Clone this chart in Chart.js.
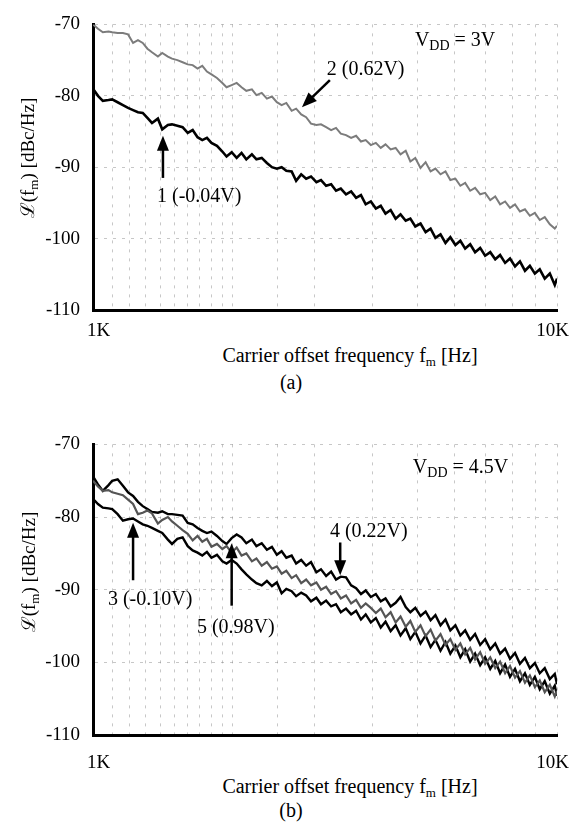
<!DOCTYPE html>
<html>
<head>
<meta charset="utf-8">
<script src="https://cdn.jsdelivr.net/npm/chart.js@4.4.0/dist/chart.umd.min.js"></script>
<style>
body { margin: 0; background: #fff; width: 570px; height: 823px; position: relative; overflow: hidden; font-family: "Liberation Serif", serif; color: #000; }
canvas { position: absolute; left: 0; }
.t { position: absolute; font-size: 20px; white-space: nowrap; transform: translate(-50%, -50%); }
.yt { position: absolute; font-size: 19px; white-space: nowrap; transform: translate(-50%, -50%) rotate(-90deg); }
sub { font-size: 13px; vertical-align: -4px; line-height: 0; }
</style>
</head>
<body>
<canvas id="chartA" width="570" height="340" style="top:0"></canvas>
<canvas id="chartB" width="570" height="350" style="top:420px"></canvas>

<div class="yt" style="left:27px;top:158px">&#x2112;(f<sub>m</sub>) [dBc/Hz]</div>
<div class="t" style="left:350px;top:355px">Carrier offset frequency f<sub>m</sub> [Hz]</div>
<div class="t" style="left:291px;top:382px">(a)</div>

<div class="yt" style="left:28px;top:572px">&#x2112;(f<sub>m</sub>) [dBc/Hz]</div>
<div class="t" style="left:350px;top:786px">Carrier offset frequency f<sub>m</sub> [Hz]</div>
<div class="t" style="left:291px;top:810px">(b)</div>

<script>
// offset frequency (Hz), shared by every curve
const freqs = [
  1000, 1025, 1050, 1080, 1100, 1130, 1160, 1190, 1220, 1250,
  1280, 1310, 1340, 1380, 1410, 1450, 1480, 1520, 1560,
  1600, 1640, 1680, 1720, 1760, 1800, 1850, 1900, 1940, 1990,
  2040, 2090, 2140, 2200, 2250, 2310, 2370, 2430, 2490, 2550,
  2610, 2680, 2740, 2810, 2880, 2950, 3030, 3100, 3180, 3260,
  3340, 3420, 3510, 3600, 3690, 3780, 3870, 3970, 4070, 4170,
  4270, 4380, 4490, 4600, 4720, 4830, 4950, 5080, 5210, 5340,
  5470, 5610, 5750, 5890, 6040, 6190, 6340, 6500, 6660, 6830,
  7000, 7180, 7360, 7540, 7730, 7920, 8120, 8320, 8530, 8740,
  8960, 9180, 9410, 9650, 9890, 10000
];

// (a) VDD = 3V
const curve1 = [
  -79.0, -80.0, -80.7, -80.6, -80.5, -80.9, -81.3, -81.7, -82.0, -82.3,
  -82.4, -83.1, -83.8, -83.2, -84.7, -84.1, -84.0, -84.2, -84.4,
  -85.2, -84.8, -85.8, -86.2, -85.9, -86.6, -87.0, -87.8, -88.5, -87.9,
  -88.7, -88.0, -88.9, -88.2, -88.9, -88.7, -89.4, -90.0, -90.2, -90.0,
  -90.5, -90.6, -91.9, -91.0, -91.6, -91.3, -92.1, -91.8, -92.6, -92.4,
  -93.3, -93.0, -93.8, -93.4, -94.3, -93.9, -95.2, -94.8, -95.8, -95.4,
  -96.5, -96.0, -97.2, -96.6, -97.5, -97.2, -98.3, -97.9, -99.1, -98.6,
  -99.9, -99.4, -100.6, -99.8, -100.9, -100.3, -101.4, -100.8, -101.9, -101.3,
  -102.4, -101.9, -102.9, -102.3, -103.4, -102.8, -103.9, -103.2, -104.5, -103.8,
  -104.9, -104.3, -105.6, -104.9, -106.5, -105.6
];
const curve2 = [
  -70.0, -70.6, -71.1, -71.0, -71.1, -71.2, -71.2, -71.4, -72.6, -72.2,
  -72.6, -73.4, -73.9, -74.5, -74.0, -74.5, -74.8, -75.0, -75.3,
  -75.6, -75.7, -76.2, -75.8, -76.6, -77.0, -77.5, -78.2, -78.8, -78.5,
  -78.2, -78.8, -79.3, -79.1, -79.9, -79.6, -80.4, -80.1, -80.9, -81.3,
  -81.0, -82.1, -81.8, -82.6, -83.0, -83.9, -84.1, -84.0, -84.4, -84.8,
  -84.5, -85.3, -85.5, -85.9, -85.6, -86.4, -86.2, -86.9, -86.6, -87.3,
  -86.8, -87.5, -87.3, -88.2, -87.7, -89.2, -88.7, -90.1, -89.3, -90.6,
  -90.2, -91.0, -90.6, -91.8, -91.6, -92.6, -92.2, -93.3, -92.9, -93.8,
  -93.6, -94.6, -94.1, -95.2, -94.8, -95.7, -95.2, -96.2, -95.9, -96.8,
  -96.4, -97.4, -97.0, -98.0, -98.6, -98.2
];

// (b) VDD = 4.5V
const curve3 = [
  -77.5, -78.2, -78.7, -78.8, -78.9, -79.6, -80.5, -80.3, -80.2, -80.6,
  -81.0, -81.2, -81.5, -81.9, -82.2, -83.1, -83.7, -83.0, -82.8,
  -84.0, -84.6, -84.9, -85.3, -84.8, -85.6, -85.2, -86.1, -86.4, -85.9,
  -86.4, -87.2, -87.9, -88.6, -89.1, -89.4, -88.8, -89.5, -89.0, -90.5,
  -89.9, -90.2, -90.9, -90.4, -90.8, -91.6, -91.1, -92.0, -91.5, -92.3,
  -92.0, -93.1, -92.6, -93.4, -92.9, -94.1, -93.4, -94.5, -93.9, -95.2,
  -94.4, -95.7, -94.9, -96.3, -95.3, -96.8, -95.8, -97.4, -96.3, -97.9,
  -96.9, -98.4, -97.2, -98.8, -97.7, -99.3, -98.2, -99.9, -98.8, -100.4,
  -99.3, -100.9, -99.8, -101.5, -100.3, -102.0, -100.9, -102.6, -101.5, -103.1,
  -102.0, -103.7, -102.6, -104.3, -103.2, -104.6
];
const curve4 = [
  -74.4, -75.5, -76.4, -75.6, -75.0, -74.8, -75.7, -76.6, -77.1, -77.9,
  -78.5, -78.9, -79.3, -79.4, -79.2, -79.6, -79.6, -79.7, -79.8,
  -80.8, -81.0, -81.5, -81.9, -82.2, -82.0, -82.6, -83.3, -83.7, -82.9,
  -82.4, -82.8, -83.6, -83.1, -84.0, -83.6, -84.5, -84.1, -85.2, -84.7,
  -85.6, -85.3, -86.4, -85.9, -86.7, -86.2, -87.6, -87.2, -88.1, -87.5,
  -88.6, -88.2, -88.3, -89.4, -89.8, -90.6, -90.1, -91.0, -90.6, -91.6,
  -91.2, -92.3, -91.8, -91.0, -92.4, -93.1, -92.5, -93.6, -93.0, -94.2,
  -93.5, -94.9, -94.1, -95.6, -94.9, -96.3, -95.6, -96.9, -96.1, -97.6,
  -96.8, -98.2, -97.4, -98.8, -98.1, -99.5, -98.7, -100.2, -99.4, -100.8,
  -100.1, -101.5, -100.8, -102.3, -101.6, -103.0
];
const curve5 = [
  -75.0, -75.8, -76.4, -76.3, -76.6, -76.8, -77.0, -77.6, -78.2, -79.6,
  -79.4, -79.1, -79.5, -80.9, -80.4, -80.0, -80.6, -81.2, -81.8,
  -82.3, -83.2, -82.6, -83.4, -83.0, -84.1, -83.7, -84.4, -84.0, -84.9,
  -84.2, -85.3, -85.0, -86.1, -85.7, -86.7, -86.2, -87.1, -86.8, -87.8,
  -87.4, -88.4, -88.0, -89.1, -88.6, -89.4, -89.0, -90.0, -89.6, -90.6,
  -90.2, -91.2, -90.8, -91.9, -91.4, -92.5, -91.9, -92.5, -93.2, -92.6,
  -93.8, -93.1, -94.5, -93.7, -95.1, -94.3, -95.8, -94.9, -96.4, -95.5,
  -97.0, -96.1, -97.6, -96.8, -98.3, -97.4, -98.9, -98.0, -99.6, -98.6,
  -100.2, -99.3, -100.8, -99.9, -101.5, -100.5, -102.1, -101.2, -102.8, -101.8,
  -103.4, -102.5, -104.1, -103.1, -104.7, -103.9
];

const yTicks = [-110, -100, -90, -80, -70];
const xTickLabels = [[1000, '1K'], [10000, '10K']];

// annotations: [freq, dB] anchors
const notesA = {
  vdd: [4940, -72.3, '3V'],
  labels: [[3190, -76.4, '2 (0.62V)'], [1374, -94.2, '1 (-0.04V)']],
  arrows: [[3240, -77.8, 2820, -81.6], [1415, -91.5, 1415, -85.6]]
};
const notesB = {
  vdd: [4890, -73.2, '4.5V'],
  labels: [[1077, -91.4, '3 (-0.10V)'], [1675, -95.2, '5 (0.98V)'], [3240, -82.0, '4 (0.22V)']],
  arrows: [[1220, -88.7, 1220, -80.8], [1990, -92.2, 1990, -83.6], [3410, -83.5, 3410, -88.0]]
};

function arrow(ctx, x1, y1, x2, y2) {
  const a = Math.atan2(y2 - y1, x2 - x1), L = 15, W = 6;
  ctx.lineWidth = 2.5;
  ctx.beginPath();
  ctx.moveTo(x1, y1);
  ctx.lineTo(x2 - Math.cos(a) * L * 0.8, y2 - Math.sin(a) * L * 0.8);
  ctx.stroke();
  ctx.beginPath();
  ctx.moveTo(x2, y2);
  ctx.lineTo(x2 - L * Math.cos(a) + W * Math.sin(a), y2 - L * Math.sin(a) - W * Math.cos(a));
  ctx.lineTo(x2 - L * Math.cos(a) - W * Math.sin(a), y2 - L * Math.sin(a) + W * Math.cos(a));
  ctx.closePath();
  ctx.fill();
}

const notesPlugin = {
  id: 'notes',
  afterDraw(chart, args, opts) {
    const ctx = chart.ctx, xs = chart.scales.x, ys = chart.scales.y;
    ctx.save();
    ctx.fillStyle = '#000';
    ctx.strokeStyle = '#000';
    ctx.textBaseline = 'middle';

    // x tick labels, only at decade ends
    ctx.font = '19px "Liberation Serif"';
    const ty = chart.chartArea.bottom + opts.labelOffset;
    xTickLabels.forEach(([f, s], i) => {
      ctx.textAlign = i === 0 ? 'left' : 'right';
      ctx.fillText(s, xs.getPixelForValue(f) + (i === 0 ? -6 : 12), ty);
    });

    ctx.textAlign = 'left';
    ctx.font = '20px "Liberation Serif"';
    const n = opts.notes;
    n.labels.forEach(([f, v, s]) => ctx.fillText(s, xs.getPixelForValue(f), ys.getPixelForValue(v)));
    n.arrows.forEach(([f1, v1, f2, v2]) => arrow(ctx,
      xs.getPixelForValue(f1), ys.getPixelForValue(v1),
      xs.getPixelForValue(f2), ys.getPixelForValue(v2)));

    // V_DD = ...
    let x = xs.getPixelForValue(n.vdd[0]);
    const y = ys.getPixelForValue(n.vdd[1]);
    ctx.fillText('V', x, y);
    x += ctx.measureText('V').width;
    ctx.font = '14px "Liberation Serif"';
    ctx.fillText('DD', x, y + 6);
    x += ctx.measureText('DD').width;
    ctx.font = '20px "Liberation Serif"';
    ctx.fillText(' = ' + n.vdd[2], x, y);
    ctx.restore();
  }
};

function pts(vals) {
  return freqs.map((f, i) => ({ x: f, y: vals[i] }));
}

function makeChart(id, datasets, notes, padTop, axisH, labelOffset) {
  return new Chart(document.getElementById(id), {
    type: 'line',
    data: { datasets: datasets },
    plugins: [notesPlugin],
    options: {
      responsive: false,
      animation: false,
      layout: { padding: { top: padTop, right: 13, left: 0, bottom: 0 } },
      elements: { point: { radius: 0 }, line: { tension: 0 } },
      plugins: {
        legend: { display: false },
        tooltip: { enabled: false },
        notes: { notes: notes, labelOffset: labelOffset }
      },
      scales: {
        x: {
          type: 'logarithmic',
          min: 1000,
          max: 10000,
          ticks: { display: false },
          grid: { color: 'rgba(130,130,130,0.45)', lineWidth: 1, drawTicks: false },
          border: { display: true, color: '#000', width: 3, dash: [3, 6] },
          afterFit: s => { s.height = axisH; }
        },
        y: {
          min: -110,
          max: -70,
          afterBuildTicks: s => { s.ticks = yTicks.map(v => ({ value: v })); },
          ticks: { color: '#000', padding: 13, font: { family: 'Liberation Serif', size: 19 } },
          grid: { color: 'rgba(130,130,130,0.45)', lineWidth: 1, drawTicks: false },
          border: { display: true, color: '#000', width: 3, dash: [3, 6] },
          afterFit: s => { s.width = 93; }
        }
      }
    }
  });
}

makeChart('chartA', [
  { data: pts(curve2), borderColor: '#7c7c7c', borderWidth: 2 },
  { data: pts(curve1), borderColor: '#000', borderWidth: 2.6 }
], notesA, 15, 30, 21);

makeChart('chartB', [
  { data: pts(curve5), borderColor: '#555', borderWidth: 2.2 },
  { data: pts(curve3), borderColor: '#000', borderWidth: 2.4 },
  { data: pts(curve4), borderColor: '#000', borderWidth: 2.4 }
], notesB, 18, 35, 28);
</script>
</body>
</html>
